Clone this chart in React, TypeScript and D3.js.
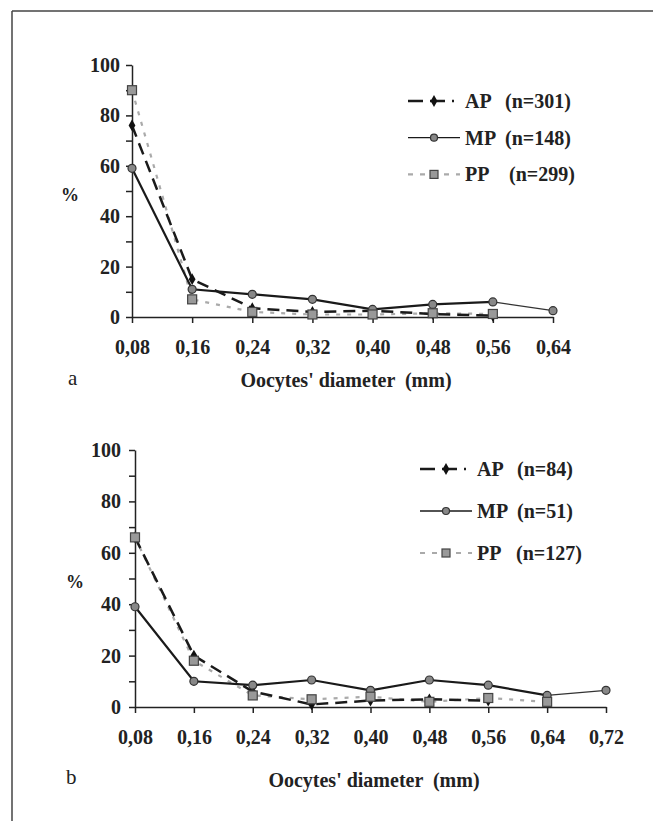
import { useEffect, useRef } from 'react'
import * as d3 from 'd3'

// panel a
const catsA = ['0,08', '0,16', '0,24', '0,32', '0,40', '0,48', '0,56', '0,64']
const apA = [76, 15, 3.5, 2, 2.5, 1.2, 0.5]
const mpA = [59, 11, 9, 7, 3, 5, 6, 2.5]
const ppA = [90, 7, 2, 1, 1, 1.5, 1.2]
const legendA = ['(n=301)', '(n=148)', '(n=299)']

// panel b
const catsB = ['0,08', '0,16', '0,24', '0,32', '0,40', '0,48', '0,56', '0,64', '0,72']
const apB = [66, 20, 6, 1, 2.5, 3, 2.5]
const mpB = [39, 10, 8.5, 10.5, 6.5, 10.5, 8.5, 4.5, 6.5]
const ppB = [66, 18, 4.5, 3, 4, 2, 3.5, 2]
const legendB = ['(n=84)', '(n=51)', '(n=127)']

const seriesNames = ['AP', 'MP', 'PP']
const majorTicks = [0, 20, 40, 60, 80, 100]
const minorTicks = [10, 30, 50, 70, 90]

const FONT = '"Liberation Serif", "Times New Roman", serif'

type Panel = {
   cats: string[]
   ap: number[]
   mp: number[]
   pp: number[]
   legend: string[]
   letter: string
   x0: number
   x1: number
   yTop: number
   yBottom: number
   yPad: number
   xPad: number
   title: [number, number]
   letterPos: [number, number]
   pct: [number, number]
   legendX: number
   legendY: number
   legendGap: number
   nameX: number
   nX: number[]
}

const panels: Panel[] = [
   {
      cats: catsA, ap: apA, mp: mpA, pp: ppA, legend: legendA, letter: 'a',
      x0: 132, x1: 553, yTop: 65, yBottom: 317, yPad: 6, xPad: 17,
      title: [346, 387], letterPos: [68, 385], pct: [70, 201],
      legendX: 408, legendY: 101, legendGap: 36.7, nameX: 465, nX: [505, 505, 509],
   },
   {
      cats: catsB, ap: apB, mp: mpB, pp: ppB, legend: legendB, letter: 'b',
      x0: 135, x1: 606, yTop: 450, yBottom: 707, yPad: 8, xPad: 17,
      title: [374, 787], letterPos: [66, 784], pct: [75, 588],
      legendX: 420, legendY: 469, legendGap: 42, nameX: 477, nX: [517, 517, 516],
   },
]

const drawPanel = (svg: any, p: Panel) => {
   const g = svg.append('g')
   const x = d3.scalePoint<string>().domain(p.cats).range([p.x0, p.x1]).padding(0)
   const y = d3.scaleLinear().domain([0, 100]).range([p.yBottom, p.yTop])

   // axes
   const yAxis = g.append('g')
      .attr('transform', `translate(${p.x0},0)`)
      .call(d3.axisLeft(y).tickValues(majorTicks).tickSize(6).tickSizeOuter(0).tickPadding(p.yPad))
   g.append('g')
      .attr('transform', `translate(${p.x0},0)`)
      .call(d3.axisLeft(y).tickValues(minorTicks).tickSize(6).tickSizeOuter(0).tickFormat(() => ''))
      .select('.domain').remove()
   const xAxis = g.append('g')
      .attr('transform', `translate(0,${p.yBottom})`)
      .call(d3.axisBottom(x).tickSize(6).tickSizeOuter(0).tickPadding(p.xPad))

   g.selectAll('.domain, .tick line').attr('stroke', '#222').attr('stroke-width', 1.5)
   ;[yAxis, xAxis].forEach((a) => a.selectAll('text')
      .attr('fill', '#222')
      .style('font-family', FONT)
      .style('font-weight', 'bold')
      .style('font-size', '20px'))

   const line = d3.line<number>().x((_, i) => x(p.cats[i]) as number).y((d) => y(d))

   // lines
   g.append('path').attr('d', line(p.pp)).attr('fill', 'none')
      .attr('stroke', '#aaa').attr('stroke-width', 2.2).attr('stroke-dasharray', '4,7')
   g.append('path').attr('d', line(p.ap)).attr('fill', 'none')
      .attr('stroke', '#1a1a1a').attr('stroke-width', 2.5).attr('stroke-dasharray', '12,7')
   const n = p.mp.length
   g.append('path').attr('d', line(p.mp.slice(0, n - 1))).attr('fill', 'none')
      .attr('stroke', '#1a1a1a').attr('stroke-width', 2.2)
   g.append('path')
      .attr('d', d3.line<number>().x((_, i) => x(p.cats[n - 2 + i]) as number).y((d) => y(d))(p.mp.slice(n - 2)))
      .attr('fill', 'none').attr('stroke', '#333').attr('stroke-width', 1.2)

   // markers
   g.selectAll('.ap').data(p.ap).enter().append('path')
      .attr('d', d3.symbol(d3.symbolDiamond, 40)())
      .attr('transform', (d: number, i: number) => `translate(${x(p.cats[i])},${y(d)})`)
      .attr('fill', '#111')
   g.selectAll('.mp').data(p.mp).enter().append('circle')
      .attr('cx', (_: number, i: number) => x(p.cats[i]))
      .attr('cy', (d: number) => y(d))
      .attr('r', 4)
      .attr('fill', '#888').attr('stroke', '#333').attr('stroke-width', 1.2)
   g.selectAll('.pp').data(p.pp).enter().append('rect')
      .attr('x', (_: number, i: number) => (x(p.cats[i]) as number) - 4.5)
      .attr('y', (d: number) => y(d) - 4.5)
      .attr('width', 9).attr('height', 9)
      .attr('fill', '#999').attr('stroke', '#444').attr('stroke-width', 1.2)

   // legend
   const lx = p.legendX
   seriesNames.forEach((name, i) => {
      const ly = p.legendY + i * p.legendGap
      const mx = lx + 26
      if (name === 'AP') {
         g.append('line').attr('x1', lx).attr('x2', lx + 46).attr('y1', ly).attr('y2', ly)
            .attr('stroke', '#1a1a1a').attr('stroke-width', 2.5).attr('stroke-dasharray', '15,7')
         g.append('path').attr('d', d3.symbol(d3.symbolDiamond, 40)())
            .attr('transform', `translate(${mx},${ly})`).attr('fill', '#111')
      } else if (name === 'MP') {
         g.append('line').attr('x1', lx).attr('x2', lx + 52).attr('y1', ly).attr('y2', ly)
            .attr('stroke', '#1a1a1a').attr('stroke-width', 1.3)
         g.append('circle').attr('cx', mx).attr('cy', ly).attr('r', 3.5)
            .attr('fill', '#888').attr('stroke', '#333').attr('stroke-width', 1.2)
      } else {
         g.append('line').attr('x1', lx).attr('x2', lx + 52).attr('y1', ly).attr('y2', ly)
            .attr('stroke', '#aaa').attr('stroke-width', 2.2).attr('stroke-dasharray', '5,7')
         g.append('rect').attr('x', mx - 4).attr('y', ly - 4).attr('width', 8).attr('height', 8)
            .attr('fill', '#999').attr('stroke', '#444').attr('stroke-width', 1.2)
      }
      g.append('text').attr('x', p.nameX).attr('y', ly + 7).text(name)
         .attr('fill', '#222').style('font-family', FONT).style('font-weight', 'bold').style('font-size', '20px')
      g.append('text').attr('x', p.nX[i]).attr('y', ly + 7).text(p.legend[i])
         .attr('fill', '#222').style('font-family', FONT).style('font-weight', 'bold').style('font-size', '20px')
   })

   // labels
   g.append('text').attr('x', p.pct[0]).attr('y', p.pct[1]).attr('text-anchor', 'middle').text('%')
      .attr('fill', '#222').style('font-family', FONT).style('font-weight', 'bold').style('font-size', '18px')
   g.append('text').attr('x', p.title[0]).attr('y', p.title[1]).attr('text-anchor', 'middle')
      .text("Oocytes' diameter  (mm)")
      .attr('fill', '#222').style('font-family', FONT).style('font-weight', 'bold').style('font-size', '20px')
      .style('white-space', 'pre')
   g.append('text').attr('x', p.letterPos[0]).attr('y', p.letterPos[1]).text(p.letter)
      .attr('fill', '#222').style('font-family', FONT).style('font-size', '21px')
}

export default function App() {
   const ref = useRef<SVGSVGElement>(null)

   useEffect(() => {
      const svg = d3.select(ref.current)
      svg.selectAll('*').remove()

      // frame
      svg.append('line').attr('x1', 12).attr('x2', 653).attr('y1', 11).attr('y2', 11)
         .attr('stroke', '#444').attr('stroke-width', 1.5)
      svg.append('line').attr('x1', 12).attr('x2', 12).attr('y1', 11).attr('y2', 821)
         .attr('stroke', '#444').attr('stroke-width', 1.5)

      panels.forEach((p) => drawPanel(svg, p))
   }, [])

   return (
      <svg ref={ref} width={653} height={821}
         style={{ position: 'absolute', left: 0, top: 0, background: '#fff' }} />
   )
}
